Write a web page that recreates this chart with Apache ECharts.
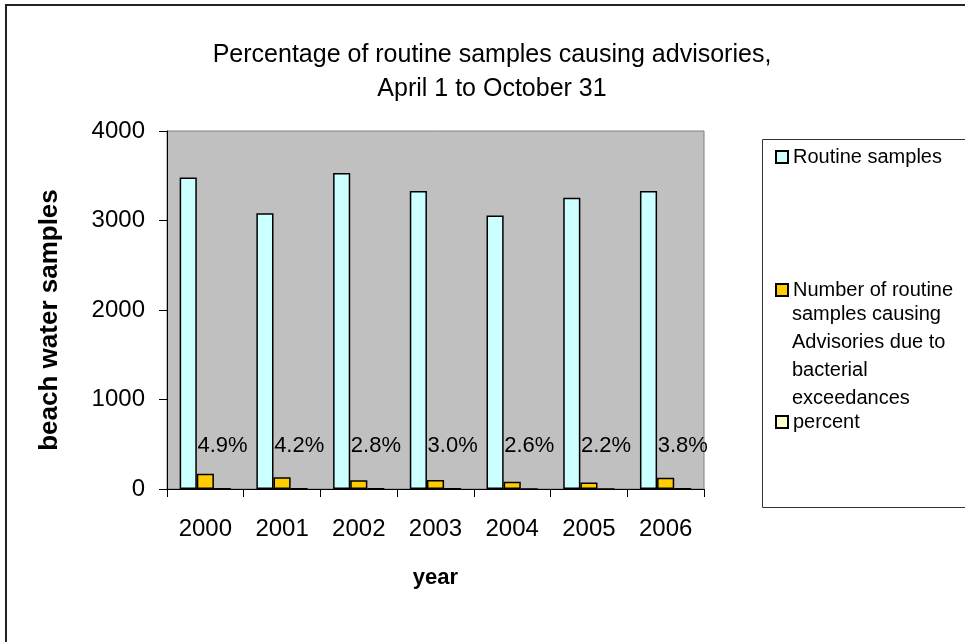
<!DOCTYPE html>
<html>
<head>
<meta charset="utf-8">
<script src="https://cdn.jsdelivr.net/npm/echarts@6/dist/echarts.min.js"></script>
<style>html,body{margin:0;padding:0;background:#fff}#c{width:965px;height:642px}</style>
</head>
<body>
<div id="c"></div>
<script>
const years = ['2000','2001','2002','2003','2004','2005','2006'];
const routineSamples = [3480, 3080, 3530, 3330, 3055, 3255, 3330];
const advisorySamples = [170, 130, 99, 100, 80, 72, 127];
const percentValues = [4.9, 4.2, 2.8, 3.0, 2.6, 2.2, 3.8];
const yTicks = [0, 1000, 2000, 3000, 4000];
const seriesNames = ['Routine samples', 'Number of routine samples causing Advisories due to bacterial exceedances', 'percent'];
const legendLines = ['Number of routine', 'samples causing', 'Advisories due to', 'bacterial', 'exceedances'];

const FONT = 'Liberation Sans, Arial, sans-serif';
const chart = echarts.init(document.getElementById('c'));
const legendTextStyle = { fontFamily: FONT, fontSize: 20, color: '#000' };
const legendBase = {
  orient: 'vertical', left: 775, itemWidth: 12, itemHeight: 12, padding: 0,
  icon: 'rect', selectedMode: false, textStyle: legendTextStyle
};
const legendExtra = legendLines.slice(1).map((t, i) => ({
  type: 'text', silent: true, z: 10,
  style: { text: t, x: 792, y: 314 + i * 28, fill: '#000', font: '20px ' + FONT, verticalAlign: 'middle' }
}));
chart.setOption({
  animation: false,
  backgroundColor: '#fff',
  title: {
    text: 'Percentage of routine samples causing advisories,\nApril 1 to October 31',
    left: 487, top: 33, textAlign: 'center',
    textStyle: { fontFamily: FONT, fontSize: 25, fontWeight: 'normal', color: '#000', lineHeight: 34 }
  },
  grid: {
    left: 167, right: 261, top: 131, bottom: 153,
    show: true, backgroundColor: '#C0C0C0', borderColor: '#808080', borderWidth: 1
  },
  legend: [
    Object.assign({}, legendBase, { top: 147, data: [seriesNames[0]] }),
    Object.assign({}, legendBase, { top: 280, data: [seriesNames[1]], formatter: () => legendLines[0] }),
    Object.assign({}, legendBase, { top: 412, data: [seriesNames[2]] })
  ],
  xAxis: {
    type: 'category', data: years,
    name: 'year', nameLocation: 'middle', nameGap: 78,
    nameTextStyle: { fontFamily: FONT, fontSize: 22, fontWeight: 'bold', color: '#000' },
    axisLine: { lineStyle: { color: '#000', width: 1 } },
    axisTick: { show: true, length: 8, lineStyle: { color: '#000' } },
    axisLabel: { fontFamily: FONT, fontSize: 24, color: '#000', margin: 28 }
  },
  yAxis: {
    type: 'value', min: yTicks[0], max: yTicks[yTicks.length - 1], interval: 1000,
    name: 'beach water samples', nameLocation: 'middle', nameGap: 104,
    nameTextStyle: { fontFamily: FONT, fontSize: 26, fontWeight: 'bold', color: '#000', padding: [0, 20, 0, 0] },
    axisLine: { show: true, lineStyle: { color: '#000', width: 1 } },
    axisTick: { show: true, length: 8, lineStyle: { color: '#000' } },
    axisLabel: { fontFamily: FONT, fontSize: 24, color: '#000', margin: 22, formatter: v => String(v) },
    splitLine: { show: false }
  },
  series: [
    { name: seriesNames[0], type: 'bar', data: routineSamples, barGap: '0%', barCategoryGap: '33%',
      itemStyle: { color: '#CCFFFF', borderColor: '#000', borderWidth: 1.5 } },
    { name: seriesNames[1], type: 'bar', data: advisorySamples, barGap: '0%', barCategoryGap: '33%',
      itemStyle: { color: '#FFCC00', borderColor: '#000', borderWidth: 1.5 } },
    { name: seriesNames[2], type: 'bar', data: percentValues, barGap: '0%', barCategoryGap: '33%',
      itemStyle: { color: '#FFFFCC', borderColor: '#000', borderWidth: 1.5 },
      label: { show: true, position: 'top', distance: 31, fontFamily: FONT, fontSize: 22, color: '#000',
        formatter: p => p.value.toFixed(1) + '%' } }
  ],
  graphic: [
    { type: 'rect', silent: true, z: -1, shape: { x: 6, y: 5, width: 1000, height: 700 },
      style: { fill: 'none', stroke: '#222', lineWidth: 2 } },
    { type: 'rect', silent: true, z: -1, shape: { x: 762.5, y: 139.5, width: 300, height: 368 },
      style: { fill: '#fff', stroke: '#333', lineWidth: 1 } }
  ].concat(legendExtra)
});
</script>
</body>
</html>
